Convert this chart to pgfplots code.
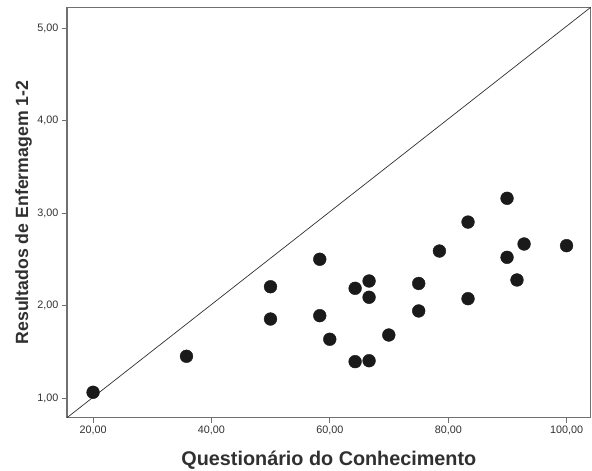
\documentclass[border=0pt]{standalone}
\usepackage{pgfplots}
\pgfplotsset{compat=1.18}
\usepackage{fontspec}
\setmainfont{Liberation Sans}
\definecolor{axgray}{HTML}{707070}
\definecolor{txtgray}{HTML}{303030}
\definecolor{dotc}{HTML}{1A1A1A}
\begin{document}
\begin{tikzpicture}
\begin{axis}[
  scale only axis,
  width=523.7pt, height=410.4pt,
  xmin=15.6, xmax=104.05,
  ymin=0.79, ymax=5.227,
  xtick={20,40,60,80,100},
  ytick={1,2,3,4,5},
  axis line style={axgray, line width=1.2pt},
  tick style={axgray, line width=1.1pt},
  tick align=outside,
  major tick length=5pt,
  xtick pos=bottom, ytick pos=left,
  /pgf/number format/.cd, fixed, fixed zerofill, precision=2, use comma, assume math mode=true,
  /pgfplots/.cd,
  ticklabel style={font=\fontsize{10.8}{12}\selectfont, text=txtgray},
  xlabel={Questionário do Conhecimento},
  ylabel={Resultados de Enfermagem 1-2},
  xlabel style={font=\fontsize{19.8}{22}\selectfont\bfseries, text=txtgray, at={(axis description cs:0.5,-0.1153)}, anchor=base},
  ylabel style={font=\fontsize{17.7}{20}\selectfont\bfseries, text=txtgray, at={(axis description cs:-0.0831,0.5)}, anchor=center},
  clip=false,
]
\addplot[draw=txtgray, line width=0.7pt, no marks] coordinates {(15.6,0.79) (104.05,5.227)};
\addplot[only marks, mark=*, mark size=6.4pt, mark options={fill=dotc, draw=dotc}] coordinates {
(20.00,1.065)
(35.78,1.454)
(49.97,2.206)
(49.97,1.857)
(58.29,2.503)
(58.29,1.893)
(59.98,1.638)
(64.26,2.189)
(64.26,1.396)
(66.62,2.268)
(66.62,2.092)
(66.62,1.406)
(69.95,1.684)
(75.00,2.241)
(75.00,1.944)
(78.50,2.592)
(83.33,2.905)
(83.33,2.077)
(89.92,3.162)
(89.92,2.524)
(91.60,2.279)
(92.80,2.668)
(99.97,2.650)
};
\end{axis}
\pgfresetboundingbox
\path[use as bounding box] ([shift={(-67pt,-53.3pt)}]current axis.south west) rectangle ([shift={(1.3pt,7.3pt)}]current axis.north east);
\end{tikzpicture}
\end{document}
